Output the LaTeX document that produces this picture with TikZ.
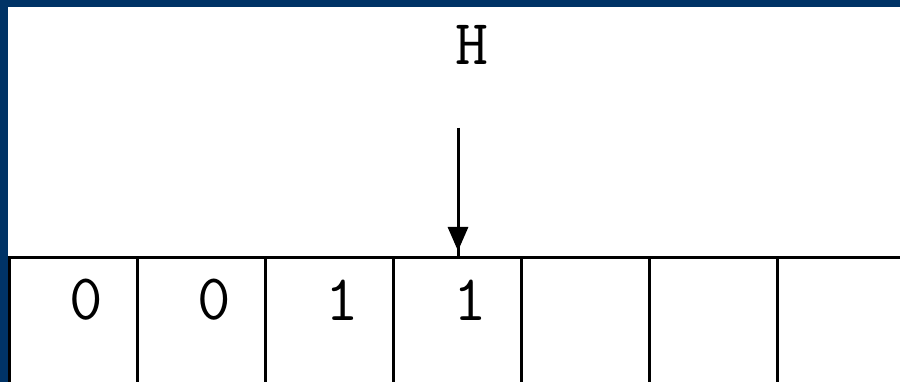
\documentclass[tikz,border=0pt]{standalone}
\usetikzlibrary{arrows.meta}
\definecolor{frameblue}{RGB}{0,51,102}
\tikzset{
  tapeline/.style={line width=3pt},
  headline/.style={line width=3pt},
  symbol/.style={font=\ttfamily\fontsize{65}{65}\selectfont, inner sep=0pt},
  headlabel/.style={font=\ttfamily\fontsize{64}{64}\selectfont, inner sep=0pt},
}
\begin{document}
\begin{tikzpicture}[x=1pt, y=-1pt]
  \useasboundingbox (0,0) rectangle (900,382);
  % frame
  \fill[frameblue] (0,0) rectangle (900,7);
  \fill[frameblue] (0,0) rectangle (8,382);

  % tape
  \draw[tapeline] (8,258) -- (900,258);
  \foreach \i in {0,...,6}
    \draw[tapeline] (9.5+128*\i,258) -- (9.5+128*\i,382);

  % tape contents
  \foreach \v [count=\i from 0] in {0,0,1,1}
    \node[symbol] (cell\i) at (86+128*\i,300) {\v};

  % read head
  \node[headlabel] (head) at (472,45) {H};
  \coordinate (headtop) at (458,128);
  \coordinate (headtip) at (458,251);
  \coordinate (tapetop) at (458,257);
  \draw[headline] (headtop) -- (tapetop);
  \draw[headline, -{Triangle[width=20pt,length=24pt]}] (headtop) -- (headtip);
\end{tikzpicture}
\end{document}
